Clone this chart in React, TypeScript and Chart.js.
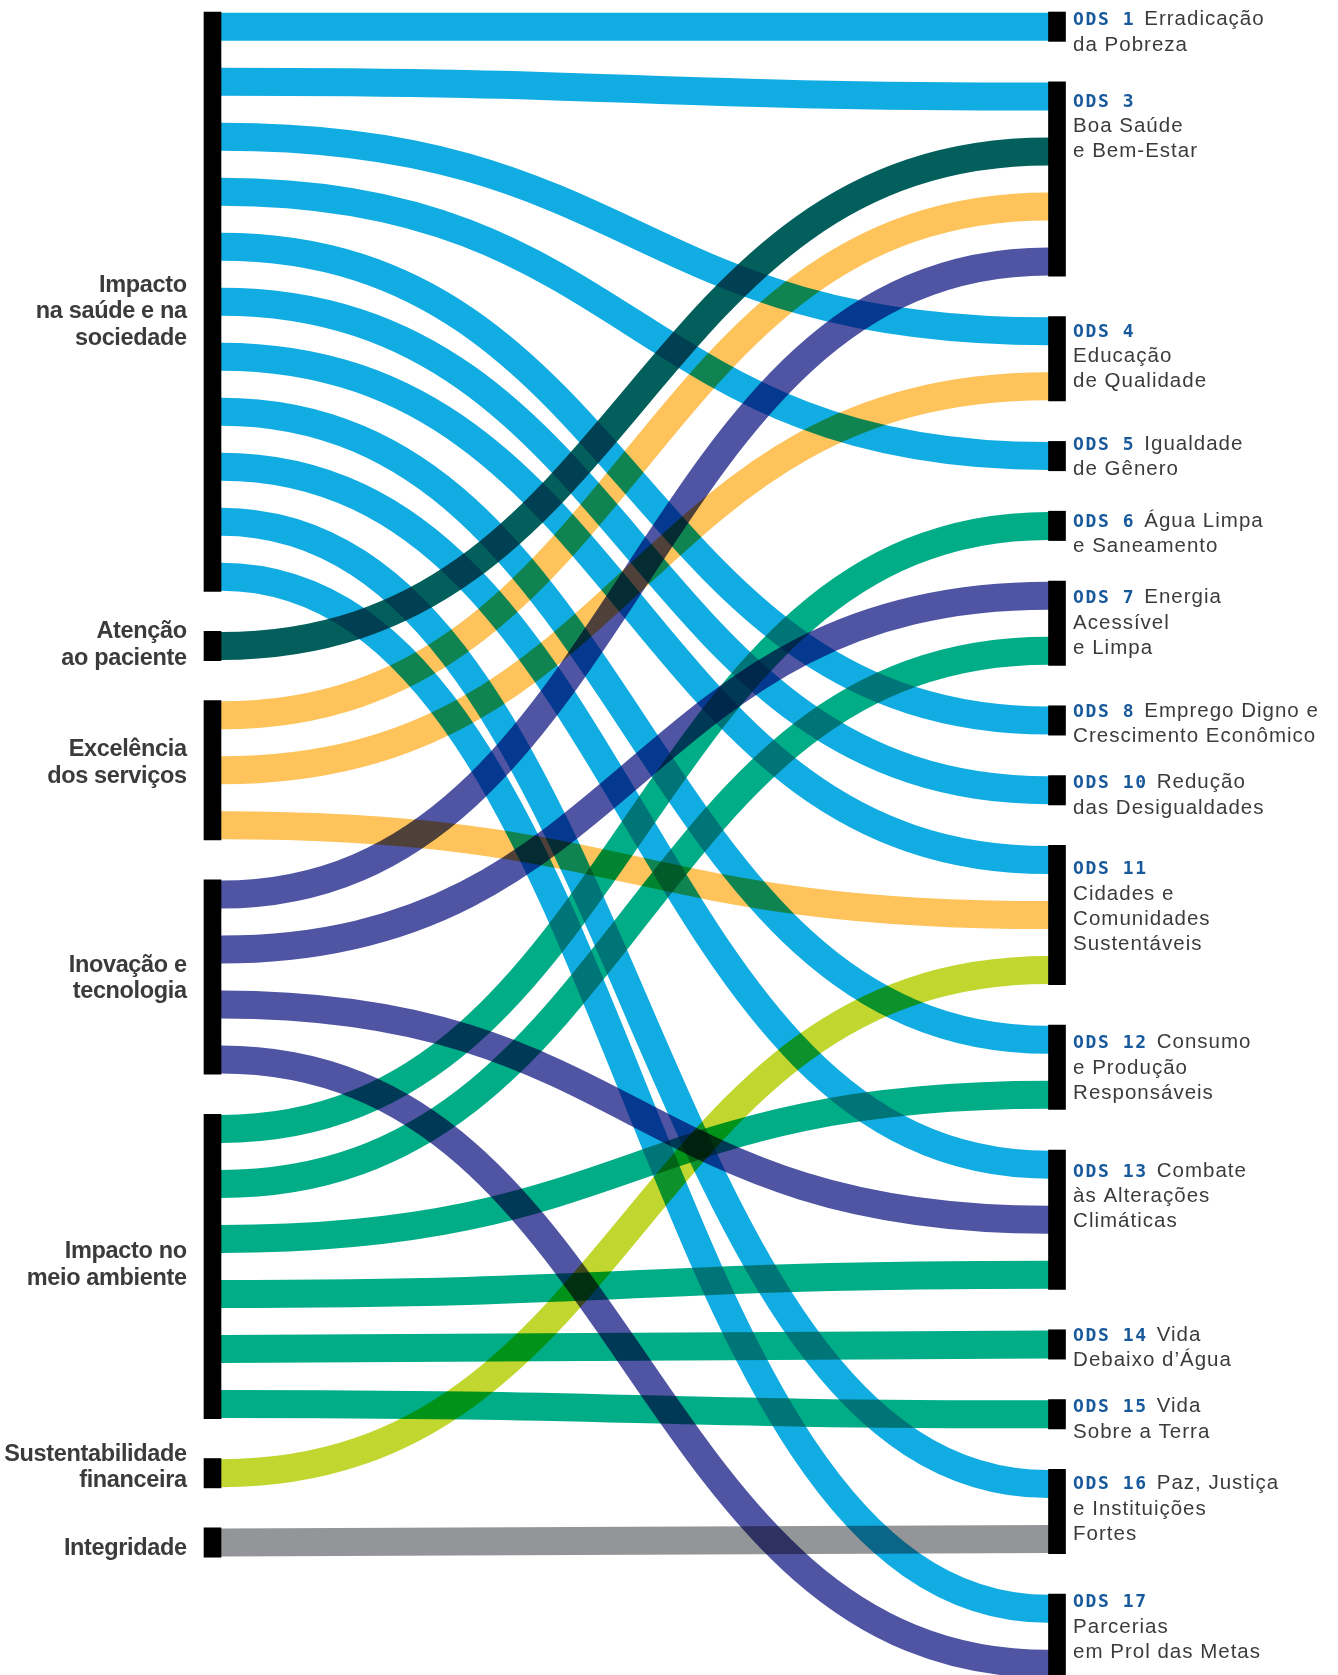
import React, { useEffect, useRef } from 'react';
import { Chart, registerables } from 'chart.js';

Chart.register(...registerables);

// ---------------- data ----------------
const sourceLabels: string[][] = [
  ['Impacto', 'na saúde e na', 'sociedade'],
  ['Atenção', 'ao paciente'],
  ['Excelência', 'dos serviços'],
  ['Inovação e', 'tecnologia'],
  ['Impacto no', 'meio ambiente'],
  ['Sustentabilidade', 'financeira'],
  ['Integridade'],
];

const sourceColors = ['#10ace2', '#025f5c', '#fec35a', '#4f54a3', '#00ad86', '#c1d72f', '#939598'];

const targetCodes = [
  'ODS 1', 'ODS 3', 'ODS 4', 'ODS 5', 'ODS 6', 'ODS 7', 'ODS 8', 'ODS 10',
  'ODS 11', 'ODS 12', 'ODS 13', 'ODS 14', 'ODS 15', 'ODS 16', 'ODS 17',
];

// first entry is printed on the same line as the code
const targetTexts: string[][] = [
  ['Erradicação', 'da Pobreza'],
  ['', 'Boa Saúde', 'e Bem-Estar'],
  ['', 'Educação', 'de Qualidade'],
  ['Igualdade', 'de Gênero'],
  ['Água Limpa', 'e Saneamento'],
  ['Energia', 'Acessível', 'e Limpa'],
  ['Emprego Digno e', 'Crescimento Econômico'],
  ['Redução', 'das Desigualdades'],
  ['', 'Cidades e', 'Comunidades', 'Sustentáveis'],
  ['Consumo', 'e Produção', 'Responsáveis'],
  ['Combate', 'às Alterações', 'Climáticas'],
  ['Vida', 'Debaixo d’Água'],
  ['Vida', 'Sobre a Terra'],
  ['Paz, Justiça', 'e Instituições', 'Fortes'],
  ['', 'Parcerias', 'em Prol das Metas'],
];

const linkSources = [0, 0, 0, 0, 0, 0, 0, 0, 0, 0, 0, 1, 2, 2, 2, 3, 3, 3, 3, 4, 4, 4, 4, 4, 4, 5, 6];
const linkTargets = [0, 1, 2, 3, 6, 7, 8, 9, 10, 13, 14, 1, 1, 2, 8, 1, 5, 10, 14, 4, 5, 9, 10, 11, 12, 8, 13];
const linkValues = [1, 1, 1, 1, 1, 1, 1, 1, 1, 1, 1, 1, 1, 1, 1, 1, 1, 1, 1, 1, 1, 1, 1, 1, 1, 1, 1];

// ---------------- style / layout ----------------
const W = 1338;
const H = 1675;
const NODE_W = 17;
const LEFT_GAP = 1.26;
const RIGHT_GAP = 1.269;
const NODE_EXTRA = 0.267;
const BAND = 0.509;
const Y_MIN = -0.4855;
const Y_MAX = 29.969;
const X_MIN = -0.25163;
const X_MAX = 1.33274;
const LEFT_LABEL_DY = [-10, -7.7, -14.3, -5.4, -8.1, -12.5, 12.5];
const RIGHT_LABEL_DY = [-1.4, 10.2, 5.4, -6.1, 0.8, 7.6, -3.8, -2, 14.2, 8.4, 12, -3.8, -2, 5.2, -1.6];
const LEFT_LH = 26.7;
const RIGHT_LH = 25.4;
const TEXT_COLOR = '#3b3b3b';
const CODE_COLOR = '#17599b';

function computeLayout() {
  const srcCenter: number[] = new Array(linkSources.length).fill(0);
  const tgtCenter: number[] = new Array(linkSources.length).fill(0);
  const srcNodes: { top: number; bottom: number; first: number }[] = [];
  const tgtNodes: { top: number; bottom: number; first: number }[] = [];

  let cursor = 0;
  sourceLabels.forEach((_, i) => {
    const ids = linkSources
      .map((s, k) => (s === i ? k : -1))
      .filter((k) => k >= 0)
      .sort((a, b) => linkTargets[a] - linkTargets[b]);
    const first = cursor;
    let last = cursor;
    ids.forEach((k) => {
      srcCenter[k] = cursor;
      last = cursor;
      cursor += linkValues[k];
    });
    srcNodes.push({ top: first - NODE_EXTRA, bottom: last + NODE_EXTRA, first });
    cursor = last + LEFT_GAP;
  });

  cursor = 0;
  targetCodes.forEach((_, j) => {
    const ids = linkTargets
      .map((t, k) => (t === j ? k : -1))
      .filter((k) => k >= 0)
      .sort((a, b) => linkSources[a] - linkSources[b]);
    const first = cursor;
    let last = cursor;
    ids.forEach((k) => {
      tgtCenter[k] = cursor;
      last = cursor;
      cursor += linkValues[k];
    });
    tgtNodes.push({ top: first - NODE_EXTRA, bottom: last + NODE_EXTRA, first });
    cursor = last + RIGHT_GAP;
  });

  return { srcCenter, tgtCenter, srcNodes, tgtNodes };
}

export default function App() {
  const ref = useRef<HTMLCanvasElement>(null);

  useEffect(() => {
    const L = computeLayout();
    const nodeBars = [
      ...L.srcNodes.map((n) => ({ x: 0, y: [n.top, n.bottom] })),
      ...L.tgtNodes.map((n) => ({ x: 1, y: [n.top, n.bottom] })),
    ];

    const sankeyPlugin = {
      id: 'sankeyLinks',
      beforeDraw(chart: any) {
        const ctx = chart.ctx;
        ctx.save();
        ctx.fillStyle = '#ffffff';
        ctx.fillRect(0, 0, chart.width, chart.height);
        ctx.restore();
      },
      beforeDatasetsDraw(chart: any) {
        const ctx: CanvasRenderingContext2D = chart.ctx;
        const xs = chart.scales.x;
        const ys = chart.scales.y;
        const unit = Math.abs(ys.getPixelForValue(1) - ys.getPixelForValue(0));
        const x0 = xs.getPixelForValue(0) + NODE_W / 2;
        const x1 = xs.getPixelForValue(1) - NODE_W / 2;
        const xm = (x0 + x1) / 2;
        ctx.save();
        ctx.globalCompositeOperation = 'multiply';
        ctx.lineCap = 'butt';
        linkSources.forEach((s, k) => {
          const y0 = ys.getPixelForValue(L.srcCenter[k]);
          const y1 = ys.getPixelForValue(L.tgtCenter[k]);
          ctx.beginPath();
          ctx.moveTo(x0 - 2, y0);
          ctx.lineTo(x0, y0);
          ctx.bezierCurveTo(xm, y0, xm, y1, x1, y1);
          ctx.lineTo(x1 + 2, y1);
          ctx.lineWidth = BAND * linkValues[k] * unit;
          ctx.strokeStyle = sourceColors[s];
          ctx.stroke();
        });
        ctx.restore();
      },
      afterDatasetsDraw(chart: any) {
        const ctx: any = chart.ctx;
        const xs = chart.scales.x;
        const ys = chart.scales.y;
        ctx.save();
        ctx.globalCompositeOperation = 'source-over';
        // left labels
        ctx.font = 'bold 23.5px "Liberation Sans", Arial, sans-serif';
        ctx.textAlign = 'right';
        ctx.textBaseline = 'alphabetic';
        ctx.fillStyle = TEXT_COLOR;
        ctx.letterSpacing = '-0.35px';
        const lx = xs.getPixelForValue(0) - NODE_W / 2 - 17.3;
        L.srcNodes.forEach((n, i) => {
          const c = ys.getPixelForValue((n.top + n.bottom) / 2);
          sourceLabels[i].forEach((line, li) => {
            ctx.fillText(line, lx, c + LEFT_LABEL_DY[i] + li * LEFT_LH);
          });
        });
        // right labels
        ctx.textAlign = 'left';
        const rx = xs.getPixelForValue(1) + NODE_W / 2 + 7.6;
        L.tgtNodes.forEach((n, j) => {
          const b0 = ys.getPixelForValue(n.first) + RIGHT_LABEL_DY[j];
          ctx.font = 'bold 18px "DejaVu Sans Mono", monospace';
          ctx.letterSpacing = '1.6px';
          ctx.fillStyle = CODE_COLOR;
          ctx.fillText(targetCodes[j], rx, b0);
          ctx.letterSpacing = '0px';
          const cw = ctx.measureText(targetCodes[j]).width + (targetCodes[j].length - 1) * 1.6;
          ctx.font = '20.5px "Liberation Sans", Arial, sans-serif';
          ctx.letterSpacing = '1px';
          ctx.fillStyle = TEXT_COLOR;
          targetTexts[j].forEach((line, li) => {
            if (!line) return;
            if (li === 0) ctx.fillText(line, rx + cw + 10.6, b0);
            else ctx.fillText(line, rx, b0 + li * RIGHT_LH);
          });
        });
        ctx.restore();
      },
    };

    const chart = new Chart(ref.current as HTMLCanvasElement, {
      type: 'bar',
      data: {
        datasets: [
          {
            data: nodeBars as any,
            backgroundColor: '#000000',
            borderWidth: 0,
            barThickness: NODE_W,
            clip: false as any,
          },
        ],
      },
      options: {
        animation: false,
        responsive: false,
        maintainAspectRatio: false,
        devicePixelRatio: 1,
        events: [],
        layout: { padding: 0 },
        plugins: { legend: { display: false }, tooltip: { enabled: false } },
        scales: {
          x: { type: 'linear', min: X_MIN, max: X_MAX, offset: false, grace: 0, display: false },
          y: { type: 'linear', min: Y_MIN, max: Y_MAX, reverse: true, grace: 0, display: false },
        },
      } as any,
      plugins: [sankeyPlugin],
    });
    return () => chart.destroy();
  }, []);

  return (
    <div style={{ position: 'absolute', left: 0, top: 0, width: W, height: H, background: '#ffffff' }}>
      <canvas ref={ref} width={W} height={H} style={{ display: 'block', width: W, height: H }} />
    </div>
  );
}
